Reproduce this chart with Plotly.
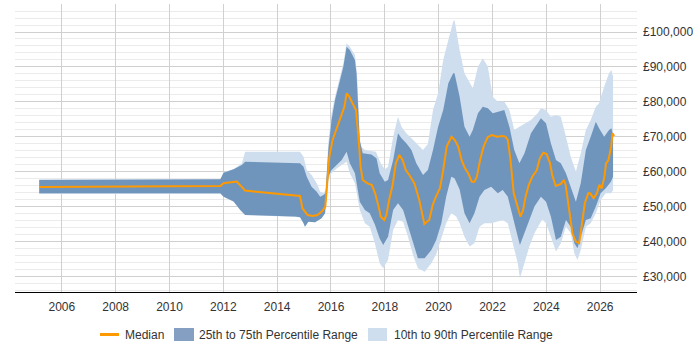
import plotly.graph_objects as go

# ---------------- data (years as decimal, salaries in GBP) ----------------
p90_x = [2005.16, 2011.9, 2012.0, 2012.38, 2012.69, 2012.81, 2014.85, 2014.98, 2015.1, 2015.28,
         2015.47, 2015.6, 2015.72, 2015.8, 2015.9, 2016.02, 2016.15, 2016.27, 2016.46, 2016.58,
         2016.7, 2016.89, 2016.97, 2017.08, 2017.26, 2017.67, 2017.85, 2018.0, 2018.12, 2018.31,
         2018.49, 2018.62, 2018.8, 2018.99, 2019.17, 2019.42, 2019.6, 2019.79, 2019.98, 2020.17,
         2020.36, 2020.54, 2020.59, 2020.78, 2020.96, 2021.15, 2021.27, 2021.46, 2021.64, 2021.83,
         2022.01, 2022.2, 2022.44, 2022.63, 2022.81, 2023.0, 2023.19, 2023.43, 2023.68, 2023.8,
         2023.99, 2024.17, 2024.36, 2024.54, 2024.73, 2024.91, 2025.1, 2025.28, 2025.47, 2025.65,
         2025.84, 2025.96, 2026.15, 2026.33, 2026.42, 2026.48]
p90_y = [57900, 57900, 59900, 60800, 62500, 65800, 65800, 64380, 60570, 59140,
         56760, 54380, 53900, 54800, 68190, 76760, 81520, 85330, 91050, 96760,
         95810, 93430, 88000, 67500, 66300, 65800, 62500, 60800, 61500, 70100,
         75810, 72950, 71050, 69620, 68190, 66290, 68000, 77710, 82480, 92000,
         97710, 102950, 103430, 94860, 88190, 85330, 83900, 90100, 92480, 90100,
         81520, 80100, 80100, 77710, 72000, 72950, 73900, 74860, 76760, 78190,
         77700, 75810, 76300, 75810, 70100, 64380, 60100, 65330, 72000, 74860,
         78670, 79620, 84380, 88190, 89140, 87200]

p10_x = [2005.16, 2011.9, 2012.01, 2012.38, 2012.63, 2012.81, 2014.85, 2014.98, 2015.05, 2015.16,
         2015.41, 2015.65, 2015.78, 2015.9, 2016.02, 2016.21, 2016.4, 2016.58, 2016.7, 2016.89,
         2017.07, 2017.26, 2017.44, 2017.63, 2017.81, 2017.94, 2018.12, 2018.31, 2018.49, 2018.68,
         2018.86, 2019.05, 2019.23, 2019.48, 2019.73, 2019.91, 2020.1, 2020.28, 2020.47, 2020.65,
         2020.78, 2020.96, 2021.15, 2021.33, 2021.52, 2021.7, 2021.95, 2022.2, 2022.38, 2022.57,
         2022.75, 2022.94, 2023.02, 2023.19, 2023.37, 2023.56, 2023.74, 2023.85, 2023.99, 2024.17,
         2024.36, 2024.54, 2024.73, 2024.91, 2025.04, 2025.16, 2025.28, 2025.47, 2025.65, 2025.84,
         2026.02, 2026.21, 2026.4, 2026.48]
p10_y = [53700, 53700, 52950, 51530, 49140, 47720, 47050, 45330, 44400, 45810,
         45620, 46760, 48190, 57700, 59620, 61000, 62000, 62950, 59620, 56760,
         49140, 45330, 44380, 39620, 33900, 32480, 34860, 43430, 46290, 45810,
         41520, 36190, 32480, 31520, 33900, 36500, 41050, 45330, 48190, 47240,
         45330, 41520, 38670, 39620, 44380, 45330, 45330, 45810, 46290, 45330,
         39620, 33900, 29620, 33900, 38670, 42480, 45000, 46500, 45330, 41520,
         37240, 39620, 44380, 42480, 36760, 34860, 37710, 44380, 45330, 48190,
         52000, 53900, 53900, 54800]

p75_x = [2005.16, 2011.89, 2012.01, 2012.38, 2012.69, 2012.81, 2014.85, 2014.98, 2015.1, 2015.28,
         2015.47, 2015.6, 2015.72, 2015.8, 2015.9, 2016.02, 2016.15, 2016.27, 2016.46, 2016.58,
         2016.7, 2016.89, 2016.95, 2017.07, 2017.18, 2017.5, 2017.69, 2017.81, 2018.0, 2018.12,
         2018.31, 2018.49, 2018.62, 2018.8, 2018.99, 2019.17, 2019.42, 2019.6, 2019.79, 2019.98,
         2020.17, 2020.36, 2020.54, 2020.59, 2020.78, 2020.96, 2021.15, 2021.27, 2021.46, 2021.64,
         2021.83, 2022.01, 2022.2, 2022.44, 2022.63, 2022.81, 2023.0, 2023.19, 2023.43, 2023.68,
         2023.8, 2023.99, 2024.17, 2024.36, 2024.54, 2024.73, 2024.91, 2025.1, 2025.28, 2025.47,
         2025.65, 2025.84, 2025.96, 2026.15, 2026.33, 2026.42, 2026.48]
p75_y = [57700, 57900, 59810, 60760, 62000, 62950, 62480, 61520, 58670, 55810,
         54380, 52950, 53430, 53900, 66290, 74860, 80570, 84380, 90100, 95810,
         94860, 92000, 88000, 69140, 65330, 65000, 63900, 59620, 57240, 57700,
         63430, 71050, 69620, 68190, 66290, 62480, 59140, 60570, 66290, 72950,
         77710, 85330, 88190, 88190, 81520, 72950, 70100, 72000, 76760, 78670,
         78190, 76760, 77240, 77710, 72950, 66290, 62480, 65330, 71050, 73900,
         75330, 73900, 68190, 63430, 62480, 59620, 55810, 51520, 56760, 66290,
         70100, 74380, 72480, 70100, 72000, 72480, 70500]

p25_x = [2005.16, 2011.89, 2012.01, 2012.38, 2012.63, 2012.81, 2014.67, 2014.85, 2014.98, 2015.03,
         2015.16, 2015.41, 2015.65, 2015.78, 2015.9, 2016.02, 2016.21, 2016.4, 2016.58, 2016.7,
         2016.89, 2017.07, 2017.26, 2017.44, 2017.63, 2017.81, 2017.94, 2018.12, 2018.31, 2018.49,
         2018.68, 2018.86, 2019.05, 2019.23, 2019.48, 2019.73, 2019.91, 2020.1, 2020.28, 2020.47,
         2020.59, 2020.78, 2020.96, 2021.15, 2021.33, 2021.52, 2021.7, 2021.95, 2022.2, 2022.38,
         2022.57, 2022.75, 2022.94, 2023.02, 2023.19, 2023.37, 2023.56, 2023.8, 2023.99, 2024.17,
         2024.36, 2024.54, 2024.73, 2024.91, 2025.04, 2025.16, 2025.28, 2025.47, 2025.65, 2025.84,
         2026.02, 2026.21, 2026.4, 2026.48]
p25_y = [53900, 53900, 52950, 51530, 49140, 47720, 47240, 47050, 45330, 44380,
         45810, 45620, 46760, 48190, 58670, 60570, 62000, 63430, 65810, 62480,
         59620, 51520, 49140, 48190, 45000, 41000, 39140, 41520, 49140, 51050,
         49140, 44380, 39620, 35330, 35330, 37710, 40570, 45330, 52950, 58670,
         58190, 55000, 48190, 45330, 48190, 52950, 54860, 55810, 53900, 54860,
         52950, 47240, 41520, 39140, 42480, 46290, 50100, 52950, 51520, 47240,
         40570, 41520, 46290, 44380, 39620, 38190, 41520, 46290, 46760, 50100,
         53900, 55330, 57240, 58670]

median_x = [2005.16, 2011.89, 2012.01, 2012.5, 2012.81, 2014.85, 2014.94, 2015.13, 2015.32, 2015.5,
            2015.69, 2015.79, 2015.88, 2015.94, 2016.06, 2016.19, 2016.37, 2016.5, 2016.58, 2016.68,
            2016.8, 2016.93, 2017.03, 2017.1, 2017.18, 2017.36, 2017.52, 2017.64, 2017.77, 2017.85,
            2017.98, 2018.06, 2018.16, 2018.29, 2018.41, 2018.54, 2018.66, 2018.78, 2018.91, 2019.1,
            2019.28, 2019.47, 2019.65, 2019.78, 2019.9, 2020.05, 2020.17, 2020.3, 2020.48, 2020.6,
            2020.73, 2020.85, 2020.98, 2021.1, 2021.23, 2021.33, 2021.42, 2021.54, 2021.67, 2021.82,
            2021.98, 2022.17, 2022.36, 2022.48, 2022.57, 2022.67, 2022.79, 2022.92, 2023.04, 2023.14,
            2023.23, 2023.35, 2023.48, 2023.64, 2023.76, 2023.89, 2024.01, 2024.14, 2024.22, 2024.35,
            2024.54, 2024.66, 2024.72, 2024.85, 2024.97, 2025.1, 2025.22, 2025.31, 2025.43, 2025.56,
            2025.63, 2025.76, 2025.88, 2025.97, 2026.06, 2026.16, 2026.22, 2026.31, 2026.41, 2026.46,
            2026.52]
median_y = [55700, 56000, 56760, 57240, 54670, 53150, 49620, 47710, 47430, 47710,
            48950, 50100, 58670, 64380, 69140, 72000, 75330, 78670, 82480, 81520,
            79620, 77710, 69140, 61520, 57710, 56760, 56290, 53900, 50100, 47240,
            46290, 47710, 52000, 56290, 62480, 64860, 63430, 60570, 59140, 56760,
            52000, 45140, 46290, 50570, 52950, 55330, 60570, 67240, 70100, 69140,
            67240, 63430, 61050, 59620, 57240, 57240, 58670, 63430, 67240, 69900,
            70570, 70100, 70290, 70100, 69140, 63430, 53900, 50100, 47240, 49140,
            52950, 56290, 58670, 60380, 63900, 65520, 65140, 62480, 59140, 56000,
            56570, 57710, 56290, 49140, 42480, 40100, 39620, 44380, 51050, 53900,
            53900, 52480, 53900, 56290, 55330, 58670, 62480, 63430, 67240, 71050,
            70290]

year_ticks = list(range(2006, 2027, 2))
legend_labels = ["Median", "25th to 75th Percentile Range", "10th to 90th Percentile Range"]

# ---------------- figure ----------------
FONT = "Liberation Sans, Arial, sans-serif"
LIGHT = "#cfdeee"
DARK = "#7095bd"
DARK_KEY = "#849fc2"
ORANGE = "#ff9900"
TXT = "#333333"

W, H = 700, 350
ML, MR, MT, MB = 15, 63, 4, 58
PW, PH = W - ML - MR, H - MT - MB


def px(xp):
    return (xp - ML) / PW


def py(yp):
    return (H - MB - yp) / PH


fig = go.Figure()

fig.add_trace(go.Scatter(
    x=p90_x + p10_x[::-1], y=p90_y + p10_y[::-1],
    mode="lines", fill="toself", fillcolor=LIGHT,
    line=dict(width=0, color=LIGHT), hoverinfo="skip",
    name=legend_labels[2], showlegend=False))

fig.add_trace(go.Scatter(
    x=p75_x + p25_x[::-1], y=p75_y + p25_y[::-1],
    mode="lines", fill="toself", fillcolor=DARK,
    line=dict(width=0, color=DARK), hoverinfo="skip",
    name=legend_labels[1], showlegend=False))

fig.add_trace(go.Scatter(
    x=median_x, y=median_y, mode="lines",
    line=dict(color=ORANGE, width=2),
    name=legend_labels[0], showlegend=False))

# custom legend (keys + text)
LY = 334.5
shapes = [
    dict(type="line", xref="paper", yref="paper", x0=px(100), x1=px(119), y0=py(LY), y1=py(LY),
         line=dict(color=ORANGE, width=3)),
    dict(type="rect", xref="paper", yref="paper", x0=px(174), x1=px(194), y0=py(341), y1=py(328),
         fillcolor=DARK_KEY, line=dict(width=0)),
    dict(type="rect", xref="paper", yref="paper", x0=px(368), x1=px(387), y0=py(341), y1=py(328),
         fillcolor=LIGHT, line=dict(width=0)),
]
annotations = []
for lab, xl in zip(legend_labels, [124, 198, 393]):
    annotations.append(dict(text=lab, xref="paper", yref="paper", x=px(xl), y=py(LY),
                            xanchor="left", yanchor="middle", showarrow=False,
                            font=dict(family=FONT, size=12, color=TXT), borderpad=0))

fig.update_layout(
    width=W, height=H,
    margin=dict(l=ML, r=MR, t=MT, b=MB),
    paper_bgcolor="white", plot_bgcolor="white",
    font=dict(family=FONT, size=12, color=TXT),
    showlegend=False,
    shapes=shapes, annotations=annotations,
)

fig.update_xaxes(
    range=[2004.26, 2027.37],
    tickmode="array", tickvals=year_ticks, ticktext=[str(t) for t in year_ticks],
    showgrid=True, gridcolor="#d0d0d0", gridwidth=1,
    showline=True, linecolor="#000000", linewidth=1,
    ticks="", zeroline=False, ticklabelstandoff=4,
    tickfont=dict(family=FONT, size=12, color=TXT),
)

fig.update_yaxes(
    side="right",
    range=[25700, 108000],
    tick0=0, dtick=10000,
    tickprefix="£", tickformat=",d",
    showgrid=True, gridcolor="#d0d0d0", gridwidth=1,
    minor=dict(dtick=2000, tick0=0, showgrid=True, gridcolor="#ebebeb", gridwidth=1),
    showline=False, zeroline=False, ticks="", ticklabelstandoff=5,
    tickfont=dict(family=FONT, size=12, color=TXT),
)

fig.write_html("out.html")
